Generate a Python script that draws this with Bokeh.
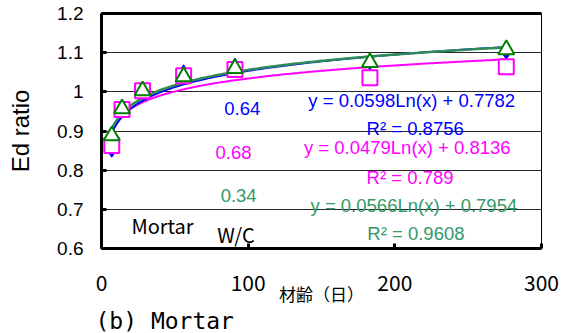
import numpy as np
from bokeh.plotting import figure
from bokeh.models import LinearAxis, Range1d, FixedTicker, Title
from bokeh.core.properties import value
from bokeh.embed import file_html
from bokeh.resources import INLINE

# Age of the specimens (days)
ages = [7, 14, 28, 56, 91, 183, 276]

# Dynamic modulus ratio by water/cement ratio
ed_064 = [0.847, 0.955, 1.000, 1.055, 1.072, 1.070, 1.097]
ed_068 = [0.863, 0.955, 1.003, 1.041, 1.057, 1.036, 1.064]
ed_034 = [0.888, 0.957, 1.003, 1.039, 1.060, 1.075, 1.108]

# Logarithmic trend lines: y = a*Ln(x) + b, with R^2
fit_064 = (0.0598, 0.7782, 0.8756)
fit_068 = (0.0479, 0.8136, 0.789)
fit_034 = (0.0566, 0.7954, 0.9608)

x_ticks = [0, 100, 200, 300]
y_ticks = [0.6, 0.7, 0.8, 0.9, 1.0, 1.1, 1.2]
y_tick_labels = ["0.6", "0.7", "0.8", "0.9", "1", "1.1", "1.2"]

BLUE = "#0000FF"
PINK = "#FF00FF"
GREEN_MK = "#008000"
GREEN_LN = "#2E8B57"
GREEN_TX = "#339966"

p = figure(width=561, height=333, output_backend="svg", toolbar_location=None,
           x_range=Range1d(0, 300), y_range=Range1d(0.6, 1.2),
           min_border_left=101, min_border_right=20, min_border_top=13,
           min_border_bottom=85, background_fill_color="white",
           border_fill_color="white")
p.outline_line_color = "black"
p.outline_line_width = 1

# axes
for ax in (p.xaxis[0], p.yaxis[0]):
    ax.axis_line_width = 3
    ax.major_tick_in = 5
    ax.major_tick_out = 0
    ax.major_tick_line_width = 3
    ax.minor_tick_in = 0
    ax.minor_tick_out = 0
    ax.axis_label_text_font_style = "normal"
    ax.axis_label_text_color = "black"
    ax.major_label_text_color = "black"

p.xaxis.ticker = FixedTicker(ticks=x_ticks)
p.yaxis.ticker = FixedTicker(ticks=y_ticks)
p.yaxis.major_label_overrides = dict(zip(y_ticks, y_tick_labels))
p.yaxis.major_label_text_font = "Liberation Sans"
p.yaxis.major_label_text_font_size = "19px"
p.yaxis.major_label_standoff = 18
p.yaxis.axis_label = "Ed ratio"
p.yaxis.axis_label_text_font = "Liberation Sans"
p.yaxis.axis_label_text_font_size = "24px"
p.yaxis.axis_label_standoff = 20

p.xaxis.major_label_text_font = "Noto Sans CJK JP"
p.xaxis.major_label_text_font_size = "21px"
p.xaxis.major_label_standoff = 26
p.xaxis.axis_label = "材齢（日）"
p.xaxis.axis_label_text_font = "Noto Sans CJK JP"
p.xaxis.axis_label_text_font_size = "17px"
p.xaxis.axis_label_standoff = -13

# thick top border
top = LinearAxis(ticker=FixedTicker(ticks=[]), axis_line_width=3,
                 major_tick_in=0, major_tick_out=0, minor_tick_in=0,
                 minor_tick_out=0, major_label_text_font_size="0px",
                 major_label_standoff=0)
p.add_layout(top, "above")

# caption under the chart
cap = Title(text="(b)  Mortar", align="left", offset=-6, standoff=-5,
            text_font="DejaVu Sans Mono", text_font_size="23px",
            text_font_style="normal", text_color="black")
p.add_layout(cap, "below")

p.xgrid.visible = False
p.ygrid.ticker = FixedTicker(ticks=[0.7, 0.8, 0.9, 1.0, 1.1])
p.ygrid.grid_line_color = "black"
p.ygrid.grid_line_width = 1
p.ygrid.grid_line_alpha = 0.85

# trend lines
xs = np.linspace(ages[0], ages[-1], 200)
for (a, b, _), col, w in ((fit_068, PINK, 2), (fit_064, BLUE, 2), (fit_034, GREEN_LN, 2.5)):
    p.line(xs, a * np.log(xs) + b, line_color=col, line_width=w)

# data markers
p.scatter(ages, ed_064, marker="diamond", size=11, fill_color=BLUE, line_color=BLUE)
p.scatter(ages, ed_068, marker="square", size=15, fill_color="white", line_color=PINK, line_width=2)
p.scatter(ages, ed_034, marker="triangle", size=16, fill_color="white", line_color=GREEN_MK, line_width=2)

def eq_text(fit):
    return "y = %.4fLn(x) + %.4f" % (fit[0], fit[1])

def r2_text(fit):
    return "R\u00b2 = %s" % fit[2]

FONT = value("Liberation Sans")
texts = [
    # x, y, text, colour, align
    (141, 0.978, eq_text(fit_064), BLUE, "left"),
    (247, 0.906, r2_text(fit_064), BLUE, "right"),
    (138, 0.858, eq_text(fit_068), PINK, "left"),
    (240, 0.781, r2_text(fit_068), PINK, "right"),
    (142.5, 0.710, eq_text(fit_034), GREEN_TX, "left"),
    (247.5, 0.638, r2_text(fit_034), GREEN_TX, "right"),
    (96, 0.957, "0.64", BLUE, "center"),
    (90, 0.845, "0.68", PINK, "center"),
    (93.5, 0.735, "0.34", GREEN_TX, "center"),
]
for x, y, t, c, al in texts:
    p.text(x=[x], y=[y], text=[t], text_color=c, text_align=al,
           text_baseline="middle", text_font=FONT, text_font_size="18.5px")

p.text(x=[20.4], y=[0.659], text=["Mortar"], text_color="black", text_align="left",
       text_baseline="middle", text_font=value("Noto Sans CJK JP"), text_font_size="20px")
p.text(x=[79], y=[0.636], text=["W/C"], text_color="black", text_align="left",
       text_baseline="middle", text_font=value("Noto Sans CJK JP"), text_font_size="20px")

open("out.html", "w").write(file_html(p, INLINE))
